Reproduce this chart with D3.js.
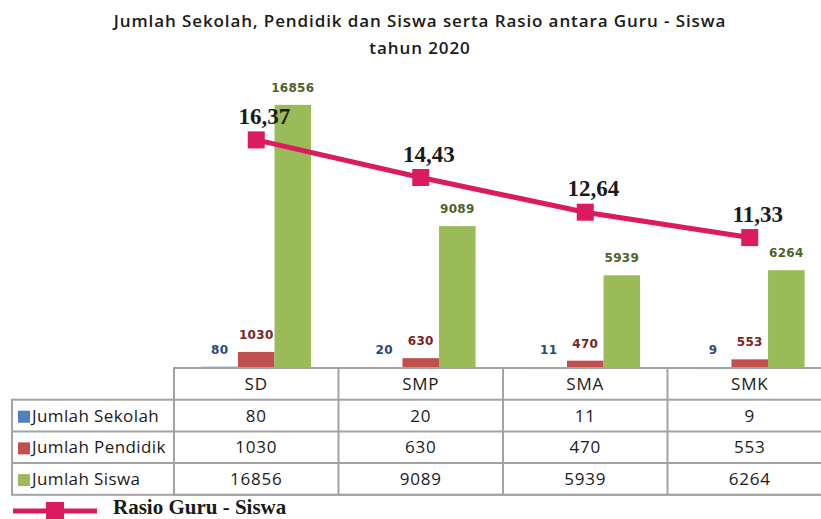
<!DOCTYPE html>
<meta charset="utf-8">
<style>
 body { margin: 0; background: #fff; }
 .title { font: 600 17px "Open Sans", sans-serif; fill: #1a1a1a; text-anchor: middle; letter-spacing: 0.9px; }
 .barlabel { font: bold 12px "DejaVu Sans", sans-serif; text-anchor: middle; letter-spacing: 0.3px; }
 .ratio { font: bold 23px "Liberation Serif", serif; fill: #1a1a1a; text-anchor: middle; }
 .cell { font: 17px "Open Sans", sans-serif; fill: #1a1a1a; text-anchor: middle; letter-spacing: 0.8px; }
 .rowname { font: 17px "Open Sans", sans-serif; fill: #1a1a1a; letter-spacing: 0.4px; }
 .grid { stroke: #a3a3a3; stroke-width: 2; fill: none; }
 .legend { font: bold 21px "Liberation Serif", serif; fill: #1a1a1a; }
</style>
<body>
<svg width="821" height="519"></svg>
<script src="https://d3js.org/d3.v7.min.js"></script>
<script>

var categories = ["SD", "SMP", "SMA", "SMK"];
var seriesNames = ["Jumlah Sekolah", "Jumlah Pendidik", "Jumlah Siswa"];
var sekolah = [80, 20, 11, 9];
var pendidik = [1030, 630, 470, 553];
var siswa = [16856, 9089, 5939, 6264];
var rasio = [16.37, 14.43, 12.64, 11.33];
var rasioName = "Rasio Guru - Siswa";
var titleLines = ["Jumlah Sekolah, Pendidik dan Siswa serta Rasio antara Guru - Siswa", "tahun 2020"];

var barColors = ["#4f81bd", "#c0504d", "#9bbb59"];
var labelColors = ["#254a7e", "#7a2422", "#4f6228"];
var lineColor = "#dc1a5f";

var svg = d3.select("svg");
var seriesValues = [sekolah, pendidik, siswa];

// layout
var baseY = 368, plotTop = 87;
var tableLeft = 12, colStart = 174, colEnd = 832;
var rowH = 31.7;

var x = d3.scaleBand().domain(categories).range([colStart, colEnd]).paddingInner(0).paddingOuter(0);
var xs = d3.scaleBand().domain(seriesNames).range([0, x.bandwidth()]).paddingInner(0).paddingOuter(0.75);
var y = d3.scaleLinear().domain([0, 18000]).range([baseY, plotTop]);
var y2 = d3.scaleLinear().domain([4.6, 19.1]).range([baseY, plotTop]);

var fmtRatio = d3.formatLocale({decimal: ",", thousands: ".", grouping: [3], currency: ["Rp", ""]}).format(".2f");

// title
svg.selectAll(".title").data(titleLines).enter().append("text")
   .attr("class", "title")
   .attr("x", 420)
   .attr("y", function(d, i) { return 27 + i * 27; })
   .text(function(d) { return d; });

// bars
var groups = svg.selectAll(".cat").data(categories).enter().append("g")
   .attr("class", "cat")
   .attr("transform", function(d) { return "translate(" + x(d) + ",0)"; });

groups.each(function(cat, ci) {
    var g = d3.select(this);
    seriesNames.forEach(function(s, si) {
        var v = seriesValues[si][ci];
        g.append("rect")
         .attr("x", xs(s))
         .attr("y", y(v))
         .attr("width", xs.bandwidth())
         .attr("height", Math.max(baseY - y(v), 1.2))
         .attr("fill", barColors[si]);
        g.append("text")
         .attr("class", "barlabel")
         .attr("x", xs(s) + xs.bandwidth() / 2)
         .attr("y", Math.min(y(v), baseY - 1) - 13)
         .attr("fill", labelColors[si])
         .text(v);
    });
});

// ratio line
var line = d3.line()
   .x(function(d, i) { return x(categories[i]) + x.bandwidth() / 2; })
   .y(function(d) { return y2(d); });

svg.append("path")
   .datum(rasio)
   .attr("d", line)
   .attr("fill", "none")
   .attr("stroke", lineColor)
   .attr("stroke-width", 5);

svg.selectAll(".marker").data(rasio).enter().append("rect")
   .attr("class", "marker")
   .attr("x", function(d, i) { return x(categories[i]) + x.bandwidth() / 2 - 8.5; })
   .attr("y", function(d) { return y2(d) - 8.5; })
   .attr("width", 17)
   .attr("height", 17)
   .attr("fill", lineColor);

svg.selectAll(".ratio").data(rasio).enter().append("text")
   .attr("class", "ratio")
   .attr("x", function(d, i) { return x(categories[i]) + x.bandwidth() / 2 + 8; })
   .attr("y", function(d) { return y2(d) - 16; })
   .text(function(d) { return fmtRatio(d); });

// data table
var table = svg.append("g");
var rowY = function(r) { return baseY + rowH * r; };

table.append("rect").attr("class", "grid")
     .attr("x", colStart).attr("y", rowY(0))
     .attr("width", colEnd - colStart).attr("height", rowH * 4);
table.append("rect").attr("class", "grid")
     .attr("x", tableLeft).attr("y", rowY(1))
     .attr("width", colEnd - tableLeft).attr("height", rowH * 3);
table.selectAll(".hline").data([2, 3]).enter().append("line")
     .attr("class", "grid")
     .attr("x1", tableLeft).attr("x2", colEnd)
     .attr("y1", function(d) { return rowY(d); })
     .attr("y2", function(d) { return rowY(d); });
table.selectAll(".vline").data(categories.slice(1)).enter().append("line")
     .attr("class", "grid")
     .attr("x1", function(d) { return x(d); }).attr("x2", function(d) { return x(d); })
     .attr("y1", rowY(0)).attr("y2", rowY(4));

table.selectAll(".head").data(categories).enter().append("text")
     .attr("class", "cell")
     .attr("x", function(d) { return x(d) + x.bandwidth() / 2; })
     .attr("y", rowY(0) + 22)
     .text(function(d) { return d; });

seriesNames.forEach(function(s, si) {
    var ry = rowY(si + 1);
    table.append("rect")
         .attr("x", tableLeft + 6).attr("y", ry + 11)
         .attr("width", 12).attr("height", 12)
         .attr("fill", barColors[si]);
    table.append("text")
         .attr("class", "rowname")
         .attr("x", tableLeft + 20).attr("y", ry + 22)
         .text(s);
    table.selectAll(".v" + si).data(seriesValues[si]).enter().append("text")
         .attr("class", "cell")
         .attr("x", function(d, i) { return x(categories[i]) + x.bandwidth() / 2; })
         .attr("y", ry + 22)
         .text(function(d) { return d; });
});

// legend for the ratio line
var lg = svg.append("g");
lg.append("line")
  .attr("x1", 13).attr("x2", 97).attr("y1", 511).attr("y2", 511)
  .attr("stroke", lineColor).attr("stroke-width", 5);
lg.append("rect")
  .attr("x", 46).attr("y", 502).attr("width", 18).attr("height", 17)
  .attr("fill", lineColor);
lg.append("text")
  .attr("class", "legend")
  .attr("x", 113).attr("y", 514)
  .text(rasioName);

</script>
</body>
